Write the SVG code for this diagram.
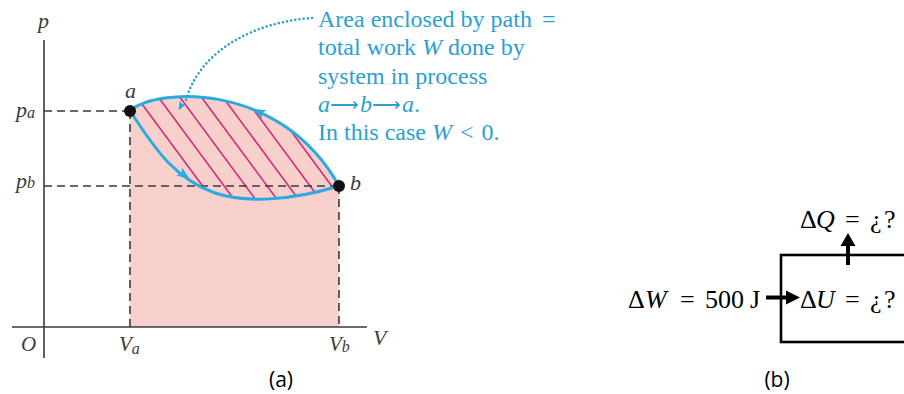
<svg xmlns="http://www.w3.org/2000/svg" width="904" height="394" viewBox="0 0 904 394">
<style>
.lbl{font-family:"Liberation Serif",serif;font-style:italic;fill:#3a3a3a}
.note{font-family:"Liberation Serif",serif;font-size:24px;fill:#2b9fd2}
.math{font-family:"Liberation Serif",serif;font-size:26px;fill:#000}
.cap{font-family:"Open Sans",sans-serif;font-size:21px;fill:#000;text-anchor:middle}
.axis{stroke:#3a3a3a;stroke-width:1.6;fill:none}
.dash{stroke:#3a3a3a;stroke-width:1.6;fill:none;stroke-dasharray:8 5}
.curve{stroke:#29abe2;stroke-width:3;fill:none}
.hatch{stroke:#d42a7a;stroke-width:1.6}
</style>
<defs>
<clipPath id="lens">
<path d="M130,111 C155,88 280,80 339,186 C290,201 245,203 215,193 C170,177 150,140 130,111 Z"/>
</clipPath>
</defs>

<g id="panel-a">
  <path id="area" d="M130,111 C155,88 280,80 339,186 L339,327 L130,327 Z" fill="#f8d0cb"/>
  <g id="hatching" clip-path="url(#lens)">
    <line class="hatch" x1="131.6" y1="90" x2="220.4" y2="210"/>
    <line class="hatch" x1="153.1" y1="90" x2="241.9" y2="210"/>
    <line class="hatch" x1="174.6" y1="90" x2="263.4" y2="210"/>
    <line class="hatch" x1="196.1" y1="90" x2="284.9" y2="210"/>
    <line class="hatch" x1="217.6" y1="90" x2="306.4" y2="210"/>
    <line class="hatch" x1="239.1" y1="90" x2="327.9" y2="210"/>
    <line class="hatch" x1="260.6" y1="90" x2="349.4" y2="210"/>
    <line class="hatch" x1="282.1" y1="90" x2="370.9" y2="210"/>
    <line class="hatch" x1="303.6" y1="90" x2="392.4" y2="210"/>
  </g>
  <g id="axes">
    <line class="axis" x1="44" y1="40" x2="44" y2="358"/>
    <line class="axis" x1="12" y1="327" x2="367" y2="327"/>
    <line class="dash" x1="44" y1="111" x2="130" y2="111"/>
    <line class="dash" x1="44" y1="186" x2="339" y2="186"/>
    <line class="dash" x1="130" y1="111" x2="130" y2="327"/>
    <line class="dash" x1="339" y1="186" x2="339" y2="327"/>
  </g>
  <g id="path-upper">
    <path class="curve" d="M130,111 C155,88 280,80 339,186"/>
    <polygon points="7,0 -6,-5 -3,0 -6,5" fill="#29abe2" transform="translate(259,112) rotate(206)"/>
  </g>
  <g id="path-lower">
    <path class="curve" d="M130,111 C150,140 170,177 215,193 C245,203 290,201 339,186"/>
    <polygon points="7,0 -6,-5 -3,0 -6,5" fill="#29abe2" transform="translate(184,175) rotate(36)"/>
  </g>
  <g id="point-a">
    <circle cx="130" cy="111" r="6" fill="#111"/>
    <text class="lbl" x="125" y="98" font-size="22">a</text>
  </g>
  <g id="point-b">
    <circle cx="339" cy="186" r="6" fill="#111"/>
    <text class="lbl" x="350" y="190" font-size="22">b</text>
  </g>
  <g id="axis-labels">
    <text class="lbl" x="38" y="28" font-size="22">p</text>
    <text class="lbl" x="16" y="117" font-size="22">p<tspan font-size="16" dy="1">a</tspan></text>
    <text class="lbl" x="16" y="188" font-size="22">p<tspan font-size="16">b</tspan></text>
    <text class="lbl" x="373" y="345" font-size="22">V</text>
    <text class="lbl" x="21" y="351" font-size="21">O</text>
    <text class="lbl" x="119" y="351" font-size="21">V<tspan font-size="16" dy="3">a</tspan></text>
    <text class="lbl" x="329" y="351" font-size="21">V<tspan font-size="16" dy="1">b</tspan></text>
  </g>
  <g id="callout">
    <path d="M312,18 C255,22 200,50 186,100" fill="none" stroke="#2b9fd2" stroke-width="2.6" stroke-linecap="round" stroke-dasharray="0 4.2"/>
    <polygon points="5,0 -4,-3.5 -2,0 -4,3.5" fill="#2b9fd2" transform="translate(181,106) rotate(120)"/>
    <text class="note" x="318" y="27">Area enclosed by path <tspan dx="4">=</tspan></text>
    <text class="note" x="318" y="55">total work <tspan font-style="italic">W</tspan> done by</text>
    <text class="note" x="318" y="83.5">system in process</text>
    <text class="note" y="112"><tspan x="318" font-style="italic">a</tspan><tspan x="330" font-size="20" dy="-1">⟶</tspan><tspan x="360" font-style="italic" dy="1">b</tspan><tspan x="372" font-size="20" dy="-1">⟶</tspan><tspan x="402" font-style="italic" dy="1">a</tspan>.</text>
    <text class="note" x="318" y="140">In this case <tspan font-style="italic">W</tspan> <tspan dx="2">&lt;</tspan> <tspan dx="2">0.</tspan></text>
  </g>
  <text class="cap" x="281" y="387">(a)</text>
</g>

<g id="panel-b">
  <g id="system-box">
    <rect x="781" y="255" width="160" height="87" fill="none" stroke="#000" stroke-width="2.6"/>
    <text class="math" y="308"><tspan x="800">Δ</tspan><tspan x="816" font-style="italic">U</tspan><tspan x="845">=</tspan><tspan x="870">¿</tspan><tspan x="884">?</tspan></text>
  </g>
  <g id="connectors">
    <line x1="766" y1="297.5" x2="788" y2="297.5" stroke="#000" stroke-width="4"/>
    <polygon points="786,290.5 800,297.5 786,304.5" fill="#000"/>
    <line x1="848" y1="265" x2="848" y2="244" stroke="#000" stroke-width="4"/>
    <polygon points="840.5,246 848,233 855.5,246" fill="#000"/>
  </g>
  <g id="work-in">
    <text class="math" y="308"><tspan x="628">Δ</tspan><tspan x="645" font-style="italic">W</tspan><tspan x="680">=</tspan><tspan x="705">500</tspan><tspan x="750">J</tspan></text>
  </g>
  <g id="heat-out">
    <text class="math" y="228"><tspan x="800">Δ</tspan><tspan x="816" font-style="italic">Q</tspan><tspan x="845">=</tspan><tspan x="870">¿</tspan><tspan x="884">?</tspan></text>
  </g>
  <text class="cap" x="777" y="387">(b)</text>
</g>
</svg>
